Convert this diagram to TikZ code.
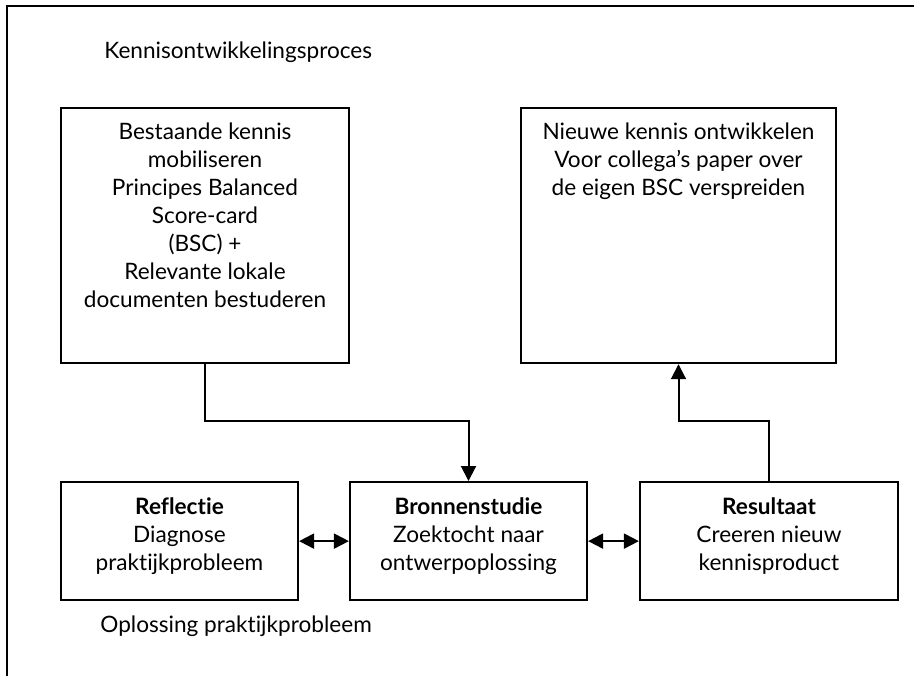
\documentclass[tikz,border=0pt]{standalone}
\usepackage{fontspec}
\setmainfont{Lato}[Ligatures={NoCommon}]
\usetikzlibrary{arrows.meta}
\tikzset{
  blok/.style={draw, line width=1.1pt, align=center, inner sep=0pt,
    font=\fontsize{11.3pt}{14pt}\selectfont},
  hoogblok/.style={blok, text height=99.5pt, text depth=28pt},
  breedblok/.style={blok, text height=43.5pt, text depth=84pt},
  laagblok/.style={blok, text height=44pt, text depth=15pt},
  kop/.style={anchor=base west, inner sep=0pt, font=\fontsize{11.3pt}{14pt}\selectfont},
  pijl/.style={line width=1pt, -{Triangle[length=7.5pt,width=7.5pt]}},
  dubbelpijl/.style={line width=1pt, {Triangle[length=7.5pt,width=7.5pt]}-{Triangle[length=7.5pt,width=7.5pt]}}
}
\begin{document}
\begin{tikzpicture}[x=0.5pt, y=-0.5pt]
\useasboundingbox (0,0) rectangle (914,676);
% kader
\draw[line width=1.2pt] (7,676) -- (7,6) -- (914,6);
\node[kop] (titel) at (104,58) {Kennisontwikkelingsproces};
\node[kop] (onder) at (100,632) {Oplossing praktijkprobleem};
% bovenste blokken
\node[hoogblok, minimum width=144pt, anchor=north] (kennis) at (205,107)
  {Bestaande kennis\\mobiliseren\\Principes Balanced\\Score-card\\(BSC) +\\Relevante lokale\\documenten bestuderen};
\node[breedblok, minimum width=157.5pt, anchor=north] (nieuw) at (678.5,107)
  {Nieuwe kennis ontwikkelen\\Voor collega's paper over\\de eigen BSC verspreiden};
% onderste blokken
\node[laagblok, minimum width=118.5pt, anchor=north] (refl) at (179.5,481)
  {\textbf{Reflectie}\\Diagnose\\praktijkprobleem};
\node[laagblok, minimum width=118.5pt, anchor=north] (bron) at (468.5,481)
  {\textbf{Bronnenstudie}\\Zoektocht naar\\ontwerpoplossing};
\node[laagblok, minimum width=129pt, anchor=north] (result) at (769,481)
  {\textbf{Resultaat}\\Creeren nieuw\\kennisproduct};
% verbindingen
\coordinate (knik1) at (468.5,421);
\coordinate (knik2) at (678.5,421);
\draw[pijl] (kennis.south) |- (knik1) -- (bron.north);
\draw[pijl] (result.north) |- (knik2) -- (nieuw.south);
\draw[dubbelpijl] (refl.east) -- (bron.west);
\draw[dubbelpijl] (bron.east) -- (result.west);
\end{tikzpicture}
\end{document}
